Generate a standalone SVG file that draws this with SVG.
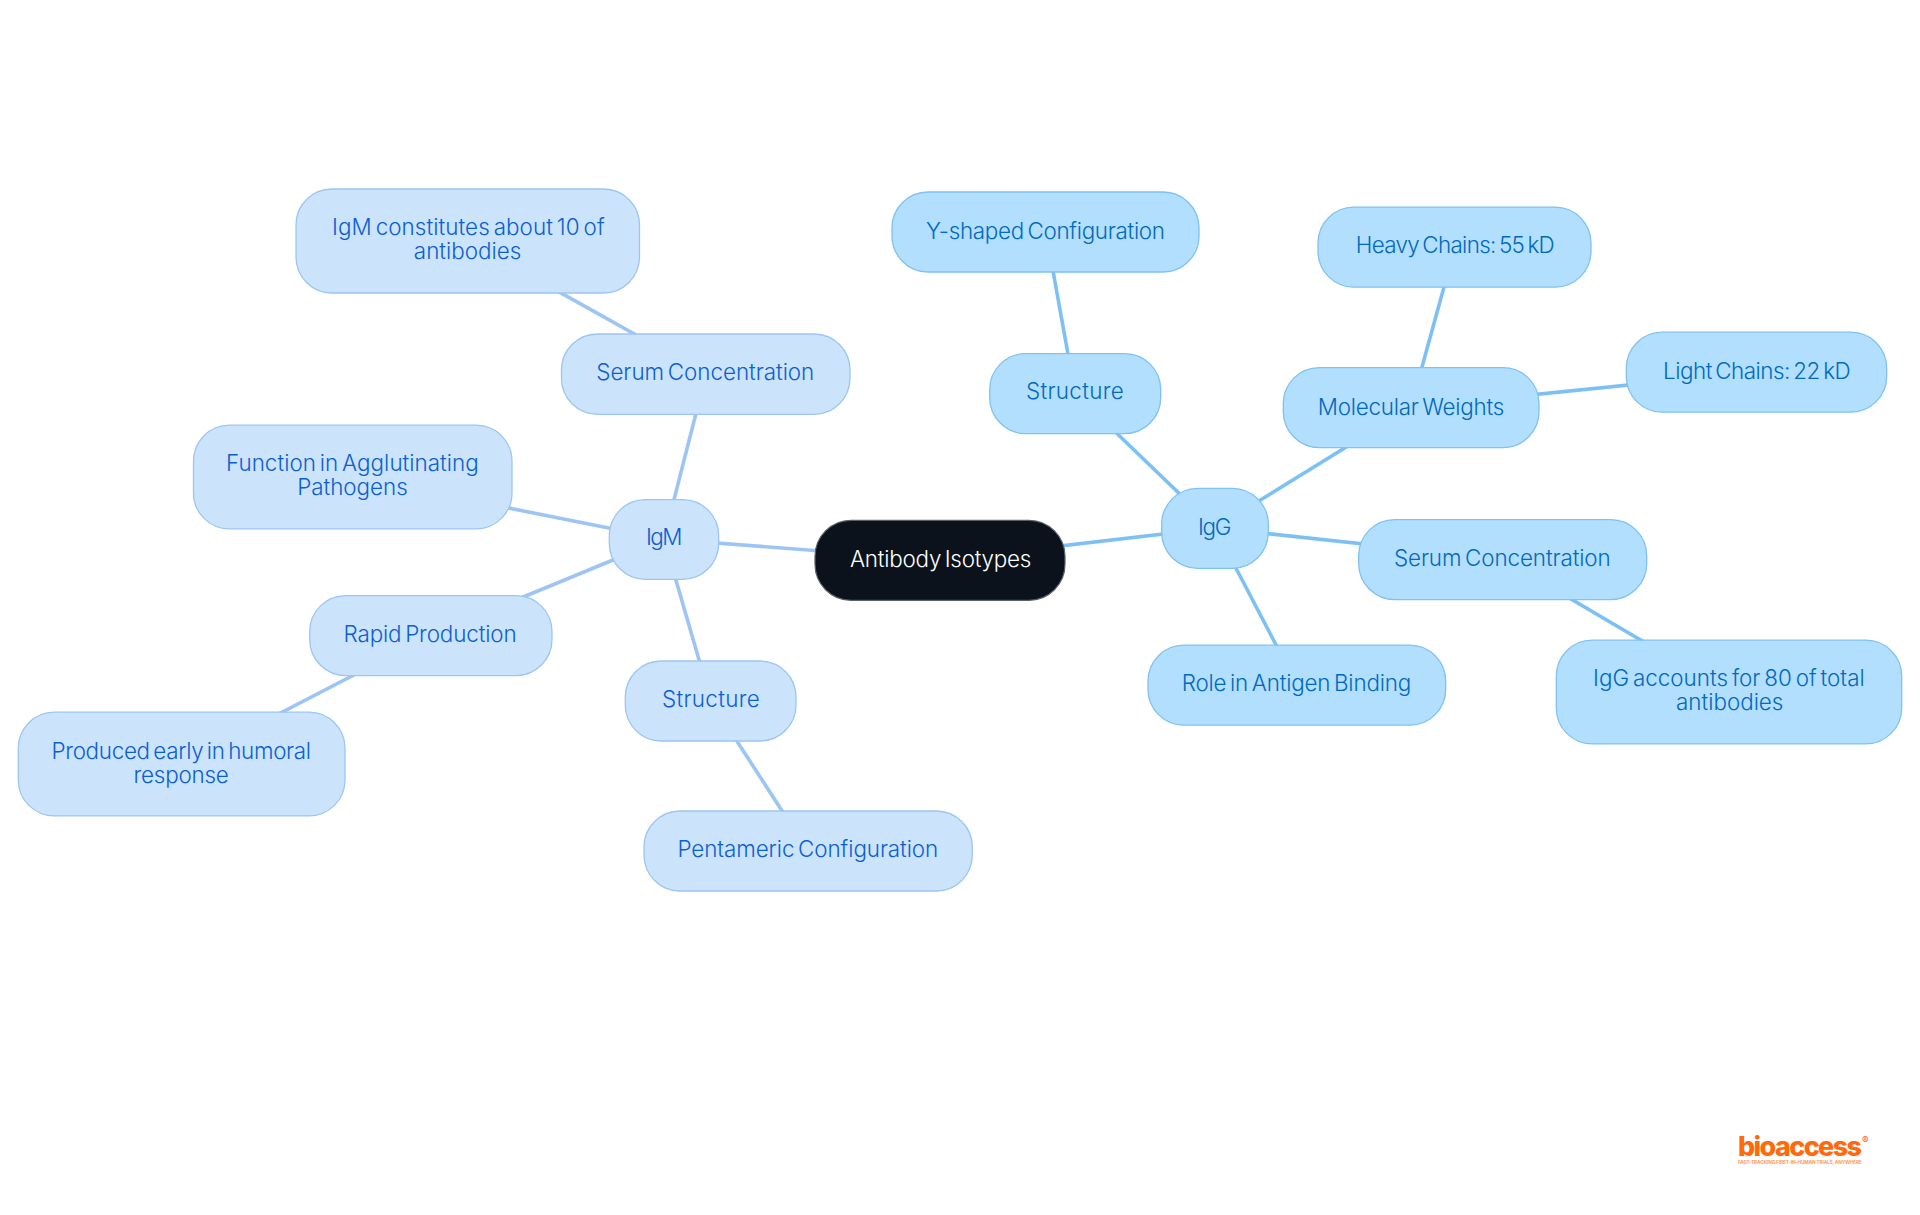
<svg xmlns="http://www.w3.org/2000/svg" width="1920" height="1215" viewBox="0 0 1920 1215">
<style>
text{font-family:"Inter","Noto Sans","Liberation Sans",sans-serif;font-size:22.4px;font-weight:350;word-spacing:-2.5px}
.g rect{fill:#B3DFFF;stroke:#7FC1F2;stroke-width:1.3}
.g text{fill:#0069C0}
.m rect{fill:#CCE3FC;stroke:#9CC5F2;stroke-width:1.3}
.m text{fill:#0B5FD0}
.r rect{fill:#0B121B;stroke:#5A6068;stroke-width:1.2}
.r text{fill:#FFFFFF}
#connectors line{stroke-width:3.6;stroke-linecap:butt}
.eg{stroke:#7DC1F4}
.em{stroke:#9DC5F3}
.logo{fill:#FF6A0D;font-weight:800;font-size:27px;word-spacing:0}
.tag{fill:#FF9A5C;font-size:4.8px;font-weight:700;word-spacing:0}
.reg{fill:#FF6A0D;font-size:10px;font-weight:500;word-spacing:0}
</style>
<rect width="1920" height="1215" fill="#FFFFFF"/>
<g id="connectors">
<line class="eg" x1="940" y1="560" x2="1215" y2="528"/>
<line class="em" x1="940" y1="560" x2="664" y2="539"/>
<line class="em" x1="664" y1="539" x2="706" y2="374"/>
<line class="em" x1="706" y1="374" x2="468" y2="241"/>
<line class="em" x1="664" y1="539" x2="353" y2="477"/>
<line class="em" x1="664" y1="539" x2="431" y2="635"/>
<line class="em" x1="431" y1="635" x2="182" y2="764"/>
<line class="em" x1="664" y1="539" x2="711" y2="701"/>
<line class="em" x1="711" y1="701" x2="808" y2="851"/>
<line class="eg" x1="1215" y1="528" x2="1075" y2="393"/>
<line class="eg" x1="1075" y1="393" x2="1046" y2="232"/>
<line class="eg" x1="1215" y1="528" x2="1411" y2="407"/>
<line class="eg" x1="1411" y1="407" x2="1455" y2="247"/>
<line class="eg" x1="1411" y1="407" x2="1757" y2="372"/>
<line class="eg" x1="1215" y1="528" x2="1503" y2="559"/>
<line class="eg" x1="1503" y1="559" x2="1729" y2="692"/>
<line class="eg" x1="1215" y1="528" x2="1297" y2="685"/>
</g>
<g id="root" class="r"><rect x="815" y="520.3" width="250" height="80" rx="36"/><text x="850" y="567.4" textLength="181.4">Antibody Isotypes</text></g>
<g id="igg" class="g"><rect x="1161.7" y="488.3" width="106.6" height="80" rx="36"/><text x="1198" y="535.4" textLength="33.4">IgG</text></g>
<g id="igg-structure" class="g"><rect x="989.7" y="353.6" width="171" height="80" rx="36"/><text x="1026" y="399.4" textLength="97.7">Structure</text></g>
<g id="igg-yshaped" class="g"><rect x="892" y="192" width="307" height="80" rx="36"/><text x="926" y="238.7" textLength="239">Y-shaped Configuration</text></g>
<g id="igg-molecular" class="g"><rect x="1283.3" y="367.6" width="255.7" height="80" rx="36"/><text x="1317.7" y="414.7" textLength="186.6">Molecular Weights</text></g>
<g id="igg-heavy" class="g"><rect x="1318" y="207.2" width="273" height="80" rx="36"/><text x="1355.7" y="253.1" textLength="199">Heavy Chains: 55 kD</text></g>
<g id="igg-light" class="g"><rect x="1626.3" y="332.2" width="260.4" height="80" rx="36"/><text x="1663" y="378.7" textLength="187.6">Light Chains: 22 kD</text></g>
<g id="igg-serum" class="g"><rect x="1358.7" y="519.6" width="288" height="80" rx="36"/><text x="1394" y="566.1" textLength="216.7">Serum Concentration</text></g>
<g id="igg-accounts" class="g"><rect x="1556.3" y="640.2" width="345.4" height="103.7" rx="36"/><text x="1593" y="686.4" textLength="271.7">IgG accounts for 80 of total</text><text x="1676" y="710.4" textLength="107.4">antibodies</text></g>
<g id="igg-role" class="g"><rect x="1148" y="645.2" width="297.7" height="80" rx="36"/><text x="1181.7" y="691.4" textLength="229.6">Role in Antigen Binding</text></g>
<g id="igm" class="m"><rect x="609.3" y="499.6" width="109.4" height="79.7" rx="36"/><text x="646" y="545.4" textLength="36.4">IgM</text></g>
<g id="igm-serum" class="m"><rect x="561.5" y="334" width="288.5" height="80.3" rx="36"/><text x="596.3" y="380.4" textLength="218">Serum Concentration</text></g>
<g id="igm-constitutes" class="m"><rect x="296" y="189" width="343.5" height="104" rx="36"/><text x="332" y="235.4" textLength="272.6">IgM constitutes about 10 of</text><text x="413.8" y="258.9" textLength="107.6">antibodies</text></g>
<g id="igm-function" class="m"><rect x="193.5" y="425.2" width="318.5" height="103.7" rx="36"/><text x="226" y="471.4" textLength="252.8">Function in Agglutinating</text><text x="297.3" y="495" textLength="110.4">Pathogens</text></g>
<g id="igm-rapid" class="m"><rect x="309.7" y="595.6" width="242.3" height="80" rx="36"/><text x="343.5" y="642.4" textLength="173.2">Rapid Production</text></g>
<g id="igm-produced" class="m"><rect x="18.3" y="712.2" width="326.7" height="103.7" rx="36"/><text x="51.5" y="758.7" textLength="259.6">Produced early in humoral</text><text x="133.6" y="782.6" textLength="95.2">response</text></g>
<g id="igm-structure" class="m"><rect x="625.3" y="661" width="170.7" height="80" rx="36"/><text x="662" y="707.1" textLength="97.7">Structure</text></g>
<g id="igm-pentameric" class="m"><rect x="644" y="811" width="328.3" height="80" rx="36"/><text x="677.4" y="857.1" textLength="260.8">Pentameric Configuration</text></g>
<g id="logo"><text class="logo" x="1738" y="1155.5" textLength="124">bioaccess</text><text class="reg" x="1862" y="1144">®</text><text class="tag" x="1738" y="1163.5" textLength="124">FAST-TRACKING FIRST-IN-HUMAN TRIALS, ANYWHERE</text></g>
</svg>
